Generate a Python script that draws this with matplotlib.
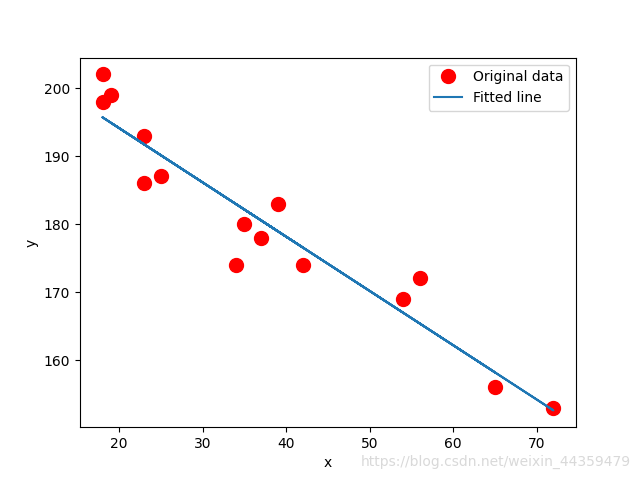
import numpy as np
import matplotlib
matplotlib.use("Agg")
import matplotlib.pyplot as plt

x = np.array([18, 23, 25, 35, 65, 54, 34, 56, 72, 19, 23, 42, 18, 39, 37], dtype=float)
y = np.array([202, 186, 187, 180, 156, 169, 174, 172, 153, 199, 193, 174, 198, 183, 178], dtype=float)

A = np.vstack([x, np.ones(len(x))]).T
m, c = np.linalg.lstsq(A, y, rcond=None)[0]

fig = plt.figure(figsize=(6.4, 4.8), dpi=100)
plt.plot(x, y, 'o', label='Original data', markersize=10, color='r')
plt.plot(x, m * x + c, label='Fitted line')
plt.xlabel('x')
plt.ylabel('y')
plt.legend()
fig.text(0.986, 0.037, 'https://blog.csdn.net/weixin_44359479', ha='right', va='center',
         color='#d9d9d9', fontsize=10)
plt.savefig('out.png')
